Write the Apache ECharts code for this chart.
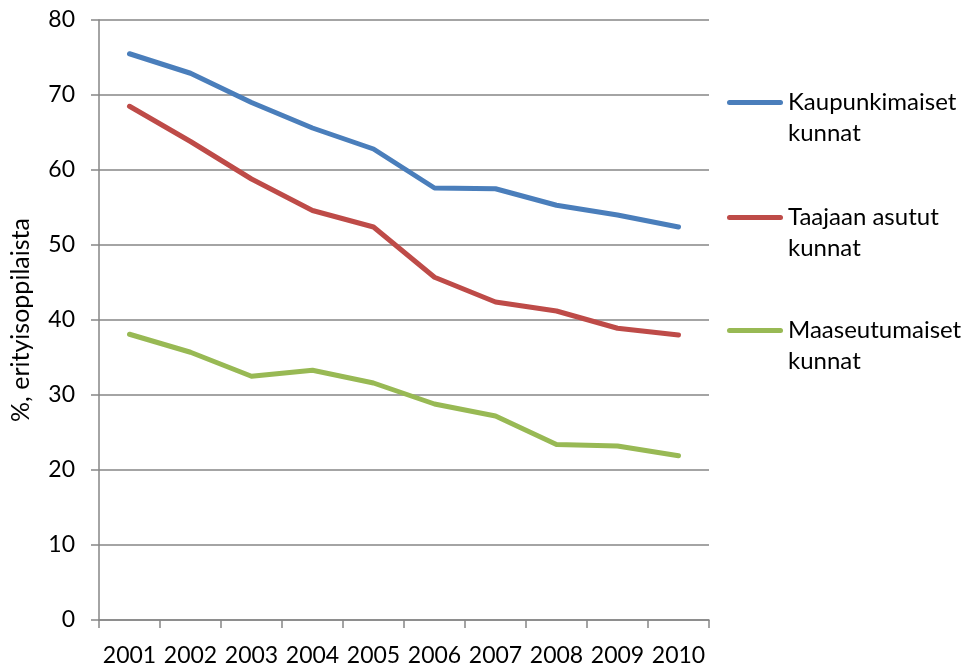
<!DOCTYPE html>
<html>
<head>
<meta charset="utf-8">
<script src="https://cdn.jsdelivr.net/npm/echarts@6/dist/echarts.min.js"></script>
<style>
  html, body { margin: 0; padding: 0; background: #fff; }
  #main { width: 971px; height: 667px; }
</style>
</head>
<body>
<div id="main"></div>
<script>
// 数据
const years = ['2001', '2002', '2003', '2004', '2005', '2006', '2007', '2008', '2009', '2010']
const kaupunki = [75.5, 72.9, 69.0, 65.6, 62.8, 57.6, 57.5, 55.3, 54.0, 52.4]
const taajaan = [68.5, 63.8, 58.8, 54.6, 52.4, 45.7, 42.4, 41.2, 38.9, 38.0]
const maaseutu = [38.1, 35.7, 32.5, 33.3, 31.6, 28.8, 27.2, 23.4, 23.2, 21.9]
const names = ['Kaupunkimaiset\nkunnat', 'Taajaan asutut\nkunnat', 'Maaseutumaiset\nkunnat']
const colors = ['#4a7ebb', '#be4b48', '#98b954']

const font = 'Lato, "Open Sans", sans-serif'
const axisGray = '#868686'

let chart = echarts.init(document.getElementById('main'))

// 每个图例单独放一个，图标对齐第一行文字
function legendAt(name, top) {
    return {
        data: [name],
        left: 727,
        top: top,
        padding: 0,
        icon: 'path://M2.5,0 L53.5,0 A2.5,2.5 0 0 1 53.5,5 L2.5,5 A2.5,2.5 0 0 1 2.5,0 Z',
        itemWidth: 56,
        itemHeight: 5,
        itemGap: 0,
        selectedMode: false,
        formatter: function (n) { return ' \n' + n },
        textStyle: { fontFamily: font, fontSize: 24, color: '#000', lineHeight: 31 }
    }
}

const option = {
    animation: false,
    textStyle: { fontFamily: font },
    grid: { left: 96, right: 262, top: 20, bottom: 46, containLabel: false },
    legend: [
        legendAt(names[0], 56),
        legendAt(names[1], 171),
        legendAt(names[2], 284)
    ],
    xAxis: {
        type: 'category',
        data: years,
        boundaryGap: true,
        axisLine: { lineStyle: { color: axisGray, width: 1.5 } },
        axisTick: { show: true, interval: 0, alignWithLabel: false, length: 8, lineStyle: { color: axisGray, width: 1.5 } },
        axisLabel: { interval: 0, hideOverlap: false, color: '#000', fontSize: 23, fontFamily: font, margin: 24 }
    },
    yAxis: {
        type: 'value',
        min: 0,
        max: 80,
        interval: 10,
        name: '%, erityisoppilaista',
        nameLocation: 'middle',
        nameGap: 66,
        nameRotate: 90,
        nameTextStyle: { color: '#000', fontSize: 25, fontFamily: font },
        axisLine: { show: true, lineStyle: { color: axisGray, width: 1.5 } },
        axisTick: { show: true, inside: false, length: 8, lineStyle: { color: axisGray, width: 1.5 } },
        axisLabel: { color: '#000', fontSize: 23, fontFamily: font, margin: 24 },
        splitLine: { lineStyle: { color: axisGray, width: 1.5 } }
    },
    series: [
        { name: names[0], type: 'line', data: kaupunki, showSymbol: false, symbol: 'none',
          lineStyle: { color: colors[0], width: 5, cap: 'round', join: 'round' }, itemStyle: { color: colors[0] } },
        { name: names[1], type: 'line', data: taajaan, showSymbol: false, symbol: 'none',
          lineStyle: { color: colors[1], width: 5, cap: 'round', join: 'round' }, itemStyle: { color: colors[1] } },
        { name: names[2], type: 'line', data: maaseutu, showSymbol: false, symbol: 'none',
          lineStyle: { color: colors[2], width: 5, cap: 'round', join: 'round' }, itemStyle: { color: colors[2] } }
    ]
}

chart.setOption(option)
</script>
</body>
</html>
